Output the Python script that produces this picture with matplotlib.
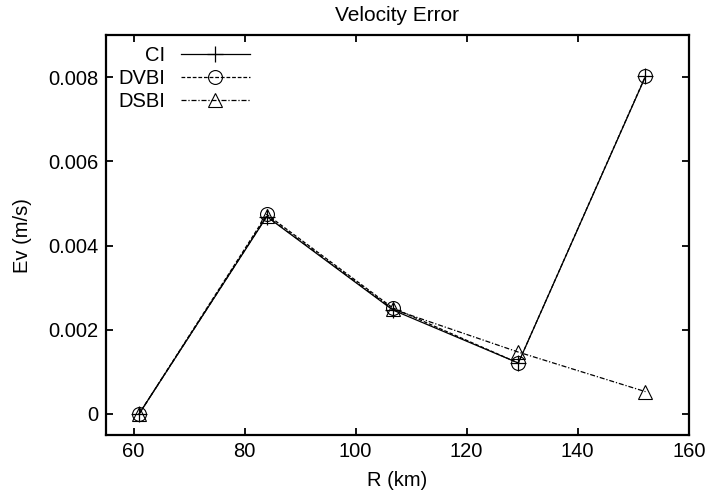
import matplotlib.pyplot as plt
from matplotlib.ticker import FuncFormatter

plt.rcParams['font.family'] = ['Liberation Sans', 'DejaVu Sans']

# afstand R (km)
r_km = [61, 84, 106.7, 129.3, 152.2]

# hastighedsfejl Ev (m/s)
ci = [0.0, 0.00469, 0.00247, 0.00121, 0.00802]
dvbi = [0.0, 0.00474, 0.00252, 0.00121, 0.00803]
dsbi = [0.0, 0.00470, 0.00249, 0.00147, 0.00053]

fig = plt.figure(figsize=(7.05, 4.96), dpi=100)
ax = fig.add_axes([0.150, 0.123, 0.827, 0.806])

ax.plot(r_km, ci, color='black', lw=0.9, ls='-', marker='+',
        ms=11, mew=0.9, label='CI')
ax.plot(r_km, dvbi, color='black', lw=0.9, ls=(0, (3, 1.5)), marker='o',
        ms=10, mew=0.8, mfc='none', label='DVBI')
ax.plot(r_km, dsbi, color='black', lw=0.9, ls=(0, (4, 1.5, 1, 1.5)), marker='^',
        ms=10, mew=0.8, mfc='none', label='DSBI')

ax.set_xlim(55, 160)
ax.set_ylim(-0.0005, 0.009)
ax.set_xticks([60, 80, 100, 120, 140, 160])
ax.set_yticks([0, 0.002, 0.004, 0.006, 0.008])
ax.yaxis.set_major_formatter(FuncFormatter(lambda v, p: '%g' % round(v, 6)))

ax.tick_params(direction='in', top=True, right=True, length=5, width=1.3,
               labelsize=14.5, pad=5)
for s in ax.spines.values():
    s.set_linewidth(1.6)

ax.set_xlabel('R (km)', fontsize=14.5, labelpad=7)
ax.set_ylabel('Ev (m/s)', fontsize=14.5, labelpad=12)
ax.set_title('Velocity Error', fontsize=15, pad=10)

ax.legend(loc='upper left', bbox_to_anchor=(0.022, 0.972), frameon=False,
          markerfirst=False, fontsize=14.5, handlelength=3.4,
          handletextpad=0.78, labelspacing=0.18, borderpad=0,
          borderaxespad=0)

plt.savefig('out.png', dpi=100)
